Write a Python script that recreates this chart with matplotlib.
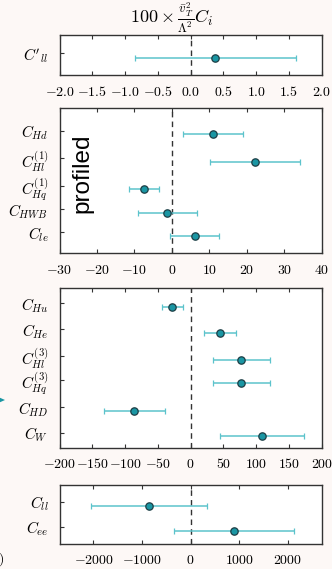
import matplotlib
matplotlib.use("Agg")
import matplotlib.pyplot as plt
from matplotlib.patches import Polygon

plt.rcParams['mathtext.fontset'] = 'cm'
plt.rcParams['font.family'] = ['DejaVu Serif']

# ---------------- data ----------------
p1_labels = [r"$C'_{ll}$"]
p1_center = [0.37]
p1_low = [-0.85]
p1_high = [1.61]
p1_ticks = [-2.0, -1.5, -1.0, -0.5, 0.0, 0.5, 1.0, 1.5, 2.0]
p1_ticklabels = ["$-2.0$", "$-1.5$", "$-1.0$", "$-0.5$", "$0.0$", "$0.5$", "$1.0$", "$1.5$", "$2.0$"]

p2_labels = [r"$C_{Hd}$", r"$C_{Hl}^{(1)}$", r"$C_{Hq}^{(1)}$", r"$C_{HWB}$", r"$C_{le}$"]
p2_center = [11.1, 22.1, -7.5, -1.3, 6.1]
p2_low = [3.1, 10.2, -11.4, -9.1, -0.4]
p2_high = [19.1, 34.1, -3.4, 6.8, 12.7]
p2_ticks = [-30, -20, -10, 0, 10, 20, 30, 40]
p2_ticklabels = ["$-30$", "$-20$", "$-10$", "$0$", "$10$", "$20$", "$30$", "$40$"]

p3_labels = [r"$C_{Hu}$", r"$C_{He}$", r"$C_{Hl}^{(3)}$", r"$C_{Hq}^{(3)}$", r"$C_{HD}$", r"$C_{W}$"]
p3_center = [-27.9, 44.3, 77.4, 76.9, -86.4, 109.5]
p3_low = [-43.7, 20.4, 33.6, 33.6, -132.2, 45.3]
p3_high = [-12.2, 68.7, 121.7, 121.7, -39.7, 173.6]
p3_ticks = [-200, -150, -100, -50, 0, 50, 100, 150, 200]
p3_ticklabels = ["$-200$", "$-150$", "$-100$", "$-50$", "$0$", "$50$", "$100$", "$150$", "$200$"]

p4_labels = [r"$C_{ll}$", r"$C_{ee}$"]
p4_center = [-860, 899]
p4_low = [-2049, -338]
p4_high = [330, 2136]
p4_ticks = [-2000, -1000, 0, 1000, 2000]
p4_ticklabels = ["$-2000$", "$-1000$", "$0$", "$1000$", "$2000$"]

title = r"$100\times\frac{\bar{v}_T^2}{\Lambda^2}C_i$"

# ---------------- layout / style ----------------
W, H = 332, 569
fig = plt.figure(figsize=(W / 100, H / 100), dpi=100)
fig.patch.set_facecolor('#fdf8f6')

left_px, right_px = 59.5, 321.7

def axes_px(top, bottom):
    return fig.add_axes([left_px / W, 1 - bottom / H, (right_px - left_px) / W, (bottom - top) / H])

bar_color = '#5cc3cc'
face_color = '#1a96a3'
edge_color = '#1c3d44'
dark = '#333333'

panels = [
    (p1_labels, p1_center, p1_low, p1_high, p1_ticks, p1_ticklabels, (-2.0, 2.0), (35, 75), [0], (21.7, -18.3), 4.4),
    (p2_labels, p2_center, p2_low, p2_high, p2_ticks, p2_ticklabels, (-30, 40), (108.3, 253.3),
     [0, 27.6, 55, 78.3, 101.3], (122.6, -22.4), 3.5),
    (p3_labels, p3_center, p3_low, p3_high, p3_ticks, p3_ticklabels, (-200, 200), (288.3, 447.7),
     [0, 26, 53, 76.7, 104, 129.7], (144.7, -14.7), 3.5),
    (p4_labels, p4_center, p4_low, p4_high, p4_ticks, p4_ticklabels, (-2700, 2700), (484.7, 543.7),
     [0, 25], (42, -17), 4.0),
]

axes = []
for labels, center, low, high, ticks, ticklabels, xlim, (top, bottom), rows, ylim, off in panels:
    ax = axes_px(top, bottom)
    ax.set_facecolor('white')
    ypts = [r + off for r in rows]
    xerr = [[c - l for c, l in zip(center, low)], [h - c for c, h in zip(center, high)]]
    ax.axvline(0, color=dark, lw=1.0, ls=(0, (4, 3)), zorder=1)
    ax.errorbar(center, ypts, xerr=xerr, fmt='o', color=bar_color, ecolor=bar_color,
                elinewidth=1.1, capsize=2.5, capthick=1.1,
                markerfacecolor=face_color, markeredgecolor=edge_color,
                markeredgewidth=0.9, markersize=5.3, zorder=3)
    ax.set_xlim(*xlim)
    ax.set_ylim(*ylim)
    ax.set_xticks(ticks)
    ax.set_xticklabels(ticklabels, fontsize=10)
    ax.set_yticks(rows)
    ax.set_yticklabels(labels, fontsize=11)
    ax.tick_params(axis='x', direction='in', top=True, bottom=True, length=3, width=0.8,
                   color=dark, pad=7)
    ax.tick_params(axis='y', direction='in', left=True, right=False, length=3, width=0.8,
                   color=dark, pad=8)
    for s in ax.spines.values():
        s.set_color(dark)
        s.set_linewidth(1.0)
    axes.append(ax)

fig.text(171 / W, 1 - 18 / H, title, ha='center', va='center', fontsize=13)

axes[1].text(82 / W, 1 - 173 / H, "profiled", transform=fig.transFigure, rotation=90,
             ha='center', va='center', fontsize=17.5, family=['Liberation Sans'])

# cropped-off remnants at the left edge of the original figure
fig.text(5 / W, 1 - 560 / H, "$0)$", ha='right', va='center', fontsize=10)
fig.patches.append(Polygon([[-4 / W, 1 - 396 / H], [-4 / W, 1 - 404 / H], [5 / W, 1 - 400 / H]],
                           closed=True, transform=fig.transFigure, facecolor=face_color,
                           edgecolor='none'))

fig.savefig('out.png', dpi=100, facecolor=fig.get_facecolor())
